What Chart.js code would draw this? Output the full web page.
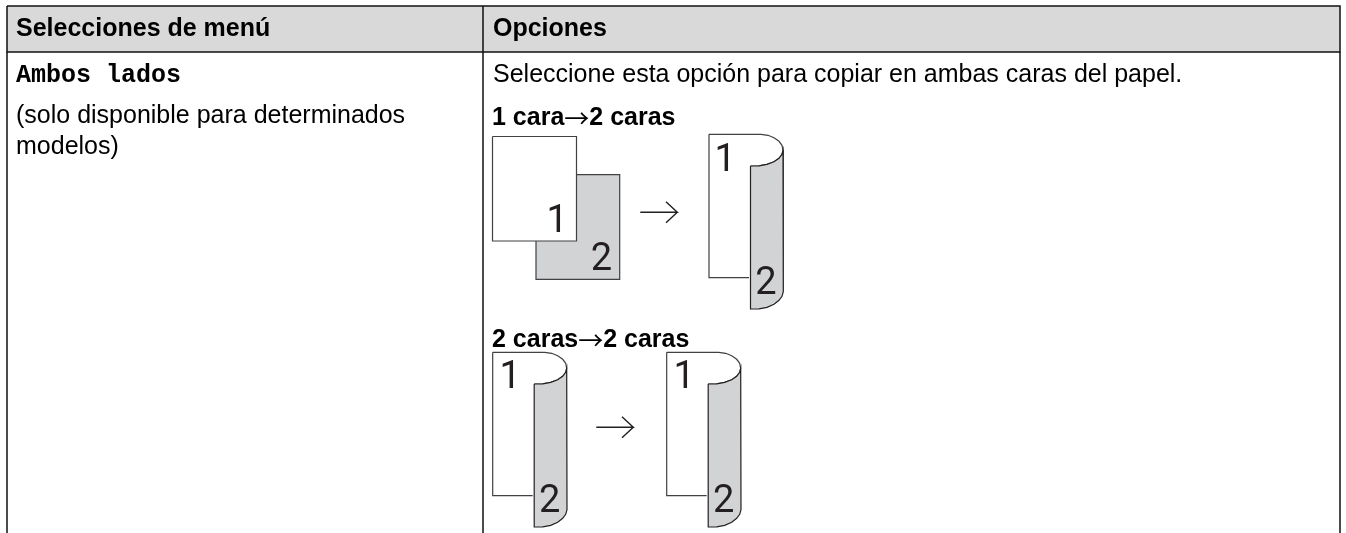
<!DOCTYPE html>
<html>
<head>
<meta charset="utf-8">
<style>
  html, body { margin: 0; padding: 0; background: #fff; overflow: hidden; }
  #wrap { position: relative; width: 1346px; height: 533px; }
</style>
</head>
<body>
<div id="wrap"><canvas id="chartCanvas"></canvas></div>
<script src="https://cdn.jsdelivr.net/npm/chart.js@4"></script>
<script>
// table frame, in page units of the axes
const headerBoxX = [7, 1340, 1340, 7, 7];
const headerBoxY = [6, 6, 52, 52, 6];
const leftEdgeX = [7, 7];
const rightEdgeX = [1340, 1340];
const dividerX = [483, 483];
const edgeY = [52, 533];
const headerDividerY = [6, 52];

// sheets in the first diagram
const frontSheetX = [492.5, 576.5, 576.5, 492.5, 492.5];
const frontSheetY = [136.5, 136.5, 241, 241, 136.5];
const backSheetX = [536, 619.7, 619.7, 536, 536];
const backSheetY = [174.7, 174.7, 279.3, 279.3, 174.7];

// folded sheet outline, relative to its top left corner
const foldTopX = [0, 44, 52, 59, 65, 70, 73, 74, 73, 70, 65, 58, 50, 41.5];
const foldTopY = [0, 0, 0, 1, 3.5, 7, 11, 16, 20, 24, 27.5, 30, 31.5, 31.7];
const foldBottomX = [0, 0, 40];
const foldBottomY = [0, 143.4, 143.4];
const foldGrayX = [41.5, 50, 58, 65, 70, 73, 74, 74.3, 73, 70, 65, 58, 50, 41.5, 41.5];
const foldGrayY = [31.7, 31.5, 30, 27.5, 24, 20, 16, 157.4, 162, 166, 170, 173, 174.5, 174.7, 31.7];
const foldCornersX = [709, 492.7, 666.7];
const foldCornersY = [134.3, 352.3, 352.3];

// arrows, relative to the tip
const arrowX = [-37, 0, -11.3, 0, -11.3];
const arrowY = [0, 0, -10.6, 0, 10.4];
const arrowTipsX = [677.3, 633.3];
const arrowTipsY = [212.3, 427.3];

// texts
const headerLabels = ["Selecciones de menú", "Opciones"];
const headerLabelX = [16, 493];
const headerLabelY = [36, 36];
const codeLabel = "Ambos lados";
const noteLines = ["(solo disponible para determinados", "modelos)"];
const noteY = [123, 154];
const introText = "Seleccione esta opción para copiar en ambas caras del papel.";
const digitLabels = ["1", "2", "1", "2", "1", "2", "1", "2"];
const digitX = [546.5, 590.7, 714.5, 755.3, 499.5, 539, 673.5, 713];
const digitY = [232, 270, 171, 294, 388, 512, 388, 512];
const modeFrom = ["1 cara", "2 caras"];
const modeTo = ["2 caras", "2 caras"];
const modeY = [125, 347];

const ink = "#414042";
const paper = "#d1d3d4";

function pts(xs, ys, ox, oy) {
  return xs.map((x, i) => ({ x: x + (ox || 0), y: ys[i] + (oy || 0) }));
}

function shape(data, fillCol, lineCol, width) {
  return {
    data: data,
    showLine: true,
    pointRadius: 0,
    borderColor: lineCol,
    borderWidth: width,
    backgroundColor: fillCol || "transparent",
    fill: fillCol ? "shape" : false,
    tension: 0
  };
}

let datasets = [];
datasets.push(shape(pts(headerBoxX, headerBoxY), "#d9d9d9", "#111", 1.5));
datasets.push(shape(pts(leftEdgeX, edgeY), null, "#111", 1.5));
datasets.push(shape(pts(rightEdgeX, edgeY), null, "#111", 1.5));
datasets.push(shape(pts(dividerX, edgeY), null, "#111", 1.5));
datasets.push(shape(pts(dividerX, headerDividerY), null, "#111", 1.5));
datasets.push(shape(pts(backSheetX, backSheetY), paper, ink, 1.2));
datasets.push(shape(pts(frontSheetX, frontSheetY), "#fff", ink, 1.2));
foldCornersX.forEach((cx, i) => {
  let cy = foldCornersY[i];
  datasets.push(shape(pts(foldTopX, foldTopY, cx, cy), null, ink, 1.2));
  datasets.push(shape(pts(foldBottomX, foldBottomY, cx, cy), null, ink, 1.2));
  datasets.push(shape(pts(foldGrayX, foldGrayY, cx, cy), paper, "#231f20", 1.2));
});
arrowTipsX.forEach((tx, i) => {
  datasets.push(shape(pts(arrowX, arrowY, tx, arrowTipsY[i]), null, "#231f20", 1.4));
});
// chart.js paints the first dataset last, so later shapes have to come first
datasets.reverse();

const tablePlugin = {
  id: "tableText",
  afterDatasetsDraw(c) {
    const g = c.ctx, sx = c.scales.x, sy = c.scales.y;
    const put = (txt, x, y, font, col) => {
      g.font = font;
      g.fillStyle = col || "#000";
      g.fillText(txt, sx.getPixelForValue(x), sy.getPixelForValue(y));
      return x + g.measureText(txt).width;
    };
    g.save();
    g.textBaseline = "alphabetic";
    g.textAlign = "left";
    headerLabels.forEach((t, i) => put(t, headerLabelX[i], headerLabelY[i], "bold 25px 'Liberation Sans'"));
    put(codeLabel, 16, 82, "bold 25px 'Liberation Mono'");
    noteLines.forEach((t, i) => put(t, 16, noteY[i], "25px 'Liberation Sans'"));
    put(introText, 493, 82, "25px 'Liberation Sans'");
    modeFrom.forEach((t, i) => {
      let nx = put(t, 492, modeY[i], "bold 25px 'Liberation Sans'");
      // the wide thin arrow only exists in the CJK font
      nx = put("→", nx, modeY[i] + 3, "25px 'Noto Sans CJK JP'");
      put(modeTo[i], nx, modeY[i], "bold 25px 'Liberation Sans'");
    });
    digitLabels.forEach((t, i) => put(t, digitX[i], digitY[i], "400 38px Roboto", "#231f20"));
    g.restore();
  }
};

const ctx = document.getElementById("chartCanvas");
new Chart(ctx, {
  type: "scatter",
  data: { datasets: datasets },
  options: {
    responsive: true,
    maintainAspectRatio: false,
    animation: false,
    layout: { padding: 0 },
    plugins: { legend: { display: false }, tooltip: { enabled: false } },
    scales: {
      x: { type: "linear", min: 0, max: 1346, display: false },
      y: { type: "linear", min: 0, max: 533, reverse: true, display: false }
    }
  },
  plugins: [tablePlugin]
});
</script>
</body>
</html>
